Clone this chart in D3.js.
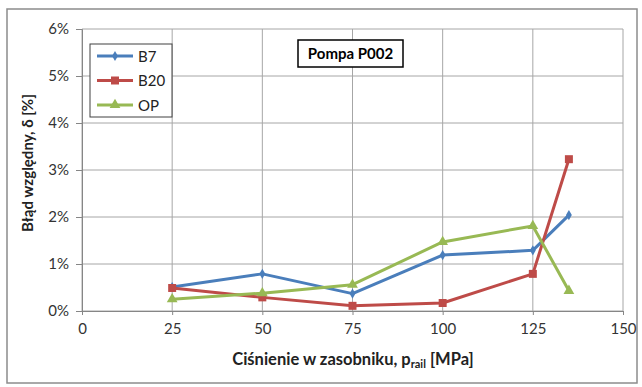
<!DOCTYPE html>
<html>
<head>
<meta charset="utf-8">
<script src="https://cdn.jsdelivr.net/npm/d3@7"></script>
<style>
  body { margin: 0; background: #fff; }
  svg { font-family: Lato, "Open Sans", sans-serif; }
</style>
</head>
<body>
<div id="chart"></div>
<script>
const pressure = [25, 50, 75, 100, 125, 135];
const b7 = [0.51, 0.79, 0.37, 1.19, 1.29, 2.04];
const b20 = [0.49, 0.29, 0.11, 0.17, 0.79, 3.23];
const op = [0.25, 0.38, 0.56, 1.47, 1.81, 0.43];
const xTicks = [0, 25, 50, 75, 100, 125, 150];
const yTicks = [0, 1, 2, 3, 4, 5, 6];

const series = [
  { name: 'B7', values: b7, color: '#4A7EBB', marker: d3.symbolDiamond, size: 30 },
  { name: 'B20', values: b20, color: '#BE4B48', marker: d3.symbolSquare, size: 64 },
  { name: 'OP', values: op, color: '#98B954', marker: d3.symbolTriangle, size: 50 }
];

const W = 642, H = 387;
const margin = { top: 29, right: 19, bottom: 76, left: 82 };
const width = W - margin.left - margin.right;
const height = H - margin.top - margin.bottom;

const svg = d3.select('#chart').append('svg')
  .attr('width', W)
  .attr('height', H);

// outer frame
svg.append('rect')
  .attr('x', 7).attr('y', 9)
  .attr('width', 630).attr('height', 374)
  .attr('fill', '#fff')
  .attr('stroke', '#8c8c8c')
  .attr('stroke-width', 1.5);

const g = svg.append('g')
  .attr('transform', `translate(${margin.left}, ${margin.top})`);

const x = d3.scaleLinear().domain([0, 150]).range([0, width]);
const y = d3.scaleLinear().domain([0, 6]).range([height, 0]);

// grid
g.append('g')
  .selectAll('line')
  .data(yTicks)
  .join('line')
  .attr('x1', 0).attr('x2', width)
  .attr('y1', d => y(d)).attr('y2', d => y(d))
  .attr('stroke', '#a6a6a6').attr('stroke-width', 1);

g.append('g')
  .selectAll('line')
  .data(xTicks)
  .join('line')
  .attr('x1', d => x(d)).attr('x2', d => x(d))
  .attr('y1', 0).attr('y2', height)
  .attr('stroke', '#a6a6a6').attr('stroke-width', 1);

// axes
const xAxis = g.append('g')
  .attr('transform', `translate(0, ${height})`)
  .call(d3.axisBottom(x).tickValues(xTicks).tickSize(4).tickPadding(8));

const yAxis = g.append('g')
  .call(d3.axisLeft(y).tickValues(yTicks).tickSize(6).tickPadding(7).tickFormat(d => d + '%'));

[xAxis, yAxis].forEach(a => {
  a.select('.domain').attr('stroke', '#868686');
  a.selectAll('.tick line').attr('stroke', '#868686');
  a.selectAll('text')
    .style('font-size', '15px')
    .style('font-family', 'Lato, sans-serif')
    .attr('fill', '#333');
});

// lines + markers
const line = d3.line()
  .x((d, i) => x(pressure[i]))
  .y(d => y(d));

series.forEach(s => {
  g.append('path')
    .datum(s.values)
    .attr('d', line)
    .attr('fill', 'none')
    .attr('stroke', s.color)
    .attr('stroke-width', 3)
    .attr('stroke-linejoin', 'round');

  g.append('g')
    .selectAll('path')
    .data(s.values)
    .join('path')
    .attr('d', d3.symbol().type(s.marker).size(s.size))
    .attr('transform', (d, i) => `translate(${x(pressure[i])}, ${y(d)})`)
    .attr('fill', s.color);
});

// legend
const legend = svg.append('g');
legend.append('rect')
  .attr('x', 90).attr('y', 44)
  .attr('width', 82).attr('height', 73)
  .attr('fill', '#fff')
  .attr('stroke', '#404040').attr('stroke-width', 1);

series.forEach((s, i) => {
  const ly = 56 + i * 24.5;
  legend.append('line')
    .attr('x1', 97).attr('x2', 133)
    .attr('y1', ly).attr('y2', ly)
    .attr('stroke', s.color).attr('stroke-width', 3);
  legend.append('path')
    .attr('d', d3.symbol().type(s.marker).size(s.size)())
    .attr('transform', `translate(115, ${ly})`)
    .attr('fill', s.color);
  legend.append('text')
    .attr('x', 138).attr('y', ly + 5.5)
    .style('font-size', '15px')
    .attr('fill', '#222')
    .text(s.name);
});

// label box
svg.append('rect')
  .attr('x', 298).attr('y', 40)
  .attr('width', 105).attr('height', 27)
  .attr('fill', '#fff')
  .attr('stroke', '#000').attr('stroke-width', 1.5);
svg.append('text')
  .attr('x', 350.5).attr('y', 59)
  .attr('text-anchor', 'middle')
  .style('font-size', '15px')
  .style('font-weight', 'bold')
  .text('Pompa P002');

// axis titles
const xt = svg.append('text')
  .attr('x', 353).attr('y', 365)
  .attr('text-anchor', 'middle')
  .style('font-size', '16.5px')
  .style('font-weight', 'bold')
  .attr('fill', '#222');
xt.append('tspan').text('Ciśnienie w zasobniku, p');
xt.append('tspan').attr('dy', 3).style('font-size', '11px').text('rail');
xt.append('tspan').attr('dy', -3).text(' [MPa]');

svg.append('text')
  .attr('transform', 'translate(33, 163) rotate(-90)')
  .attr('text-anchor', 'middle')
  .style('font-size', '15px')
  .style('font-weight', 'bold')
  .attr('fill', '#222')
  .text('Błąd względny, δ [%]');
</script>
</body>
</html>
